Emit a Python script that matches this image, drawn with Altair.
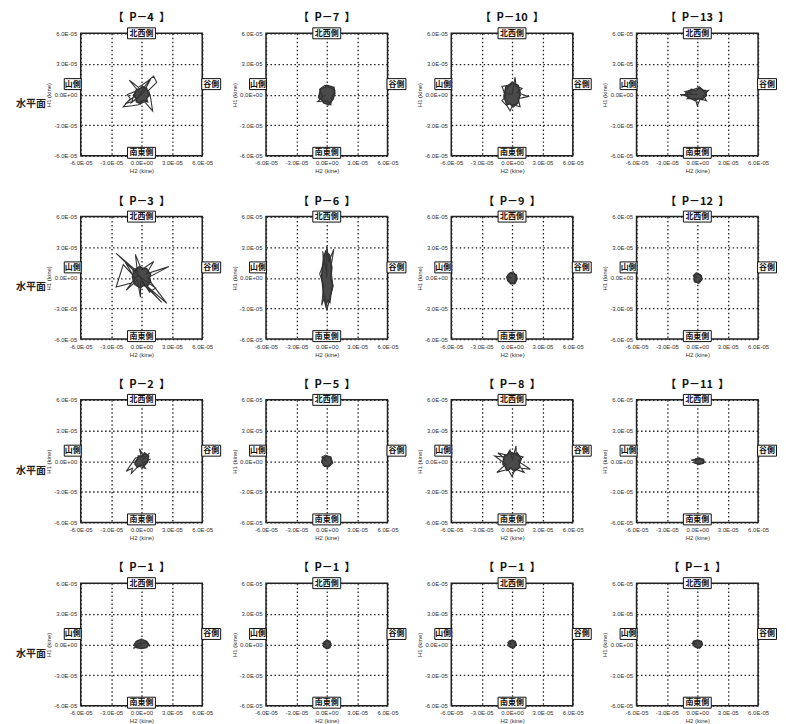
import altair as alt
import pandas as pd

# ---- data (units: 1E-06 kine) ----
TITLES = ["P－4", "P－7", "P－10", "P－13",
          "P－3", "P－6", "P－9", "P－12",
          "P－2", "P－5", "P－8", "P－11",
          "P－1", "P－1", "P－1", "P－1"]
TICKS = [-60, -30, 0, 30, 60]
SIDE_LABELS = ["北西側", "南東側", "山側", "谷側"]
ROW_LABEL = "水平面"

P4_core_x = [-5, -1, 1, 5, 6, 8, 5, 6, 1, -1, -5, -5, -8, -6, -5]
P4_core_y = [5, 6, 8, 6, 3, 0, -4, -7, -6, -9, -7, -4, -1, 2, 5]
P4_orb_x = [-2, -12, -3, 6, 12, 15, 7, 9, 11, 3, -3, -9, -18, -11, -14, -6, -10, -3, 4, 9, 2, -7, -16, -5]
P4_orb_y = [2, 14, 7, 13, 18, 12, 4, -3, -16, -7, -10, -11, -12, -4, 0, 3, -8, -2, 9, 15, 2, -6, -9, 0]

P7_core_x = [-6, -2, 0, 4, 7, 8, 6, 4, 2, -3, -5, -8, -6]
P7_core_y = [6, 7, 9, 8, 7, 1, -5, -7, -10, -8, -5, -3, 6]
P7_orb_x = [-1, -9, -4, -7, -2, 3, 8, 5, 4, 0, -10]
P7_orb_y = [0, -7, -2, 5, 9, 7, 4, -3, -10, -6, -7]

P10_core_x = [-6, -2, 0, 4, 6, 8, 7, 6, 1, -2, -5, -8, -7, -6]
P10_core_y = [8, 9, 12, 10, 9, 2, -3, -8, -12, -9, -10, -2, 3, 8]
P10_orb_x = [0, 3, 4, 10, 5, 16, 6, 8, 1, -2, -5, -10, -6, -10, -4, 0, -8, 0]
P10_orb_y = [0, 17, 8, 6, 2, -2, -4, -12, -10, -16, -11, -6, -2, 8, 9, 12, 2, 0]

P13_core_x = [-12, -8, -6, -1, 2, 6, 8, 9, 6, 5, 1, -2, -6, -9, -12]
P13_core_y = [1, 3, 5, 4, 7, 4, 4, -1, -3, -5, -4, -6, -4, -3, 1]
P13_orb_x = [0, -17, -8, -10, -2, 0, 3, 9, 6, 11, 6, 2, -4, -12, -5]
P13_orb_y = [0, 0, -2, -4, -4, -11, -4, -6, -1, 4, 3, 7, 5, 3, 1]

P3_core_x = [-8, -5, -2, 2, 5, 7, 9, 8, 9, 5, 2, -1, -4, -7, -9, -8, -8]
P3_core_y = [8, 9, 11, 9, 9, 6, 4, 0, -4, -9, -7, -10, -8, -6, 1, 4, 8]
P3_orb_x = [0, -25, -4, -6, 0, 12, 5, 27, 6, 25, 3, 20, -1, -1, -4, -15, -6, -18, -25, -10, -3, 8, 14, 0, -16, -8]
P3_orb_y = [0, 24, 6, 23, 8, 16, 4, 11, 0, -25, -6, -24, -3, -19, -2, -12, 0, 13, -9, -5, 3, -14, -10, 0, 15, 2]

P6_core_x = [-3, -1, 1, 3, 5, 4, 6, 4, 3, 1, -1, -3, -4, -5, -4, -3]
P6_core_y = [20, 26, 24, 22, 10, 0, -8, -16, -24, -22, -27, -18, -8, 2, 12, 20]
P6_orb_x = [0, 0, 2, 7, 4, 6, 3, 0, -2, -5, -3, -7, -3, -4, 0]
P6_orb_y = [0, 31, 16, 28, 10, -8, -20, -32, -18, -27, -8, 4, 14, 26, 5]

P9_core_x = [-4, -1, 1, 4, 5, 3, -1, -4, -5, -4]
P9_core_y = [3, 5, 4, 3, -1, -5, -6, -3, 0, 3]
P9_orb_x = [0, -5, -2, 2, 4, 1, -3]
P9_orb_y = [0, 1, -4, -6, 2, 6, 4]

P12_core_x = [-3, 1, 4, 4, 1, -3, -3]
P12_core_y = [3, 4, 2, -2, -5, -3, 3]
P12_orb_x = [0, -4, -1, 3, 5, 2, -3]
P12_orb_y = [0, 2, 5, 3, -1, -5, -4]

P2_core_x = [-7, -4, -3, 1, 3, 6, 7, 6, 2, -1, -4, -7]
P2_core_y = [-2, 2, 5, 5, 8, 6, 5, -1, -5, -4, -6, -2]
P2_orb_x = [0, 8, 3, -2, 0, -6, -15, -9, -10, -3, 4, 1, 9]
P2_orb_y = [0, 8, 3, 12, 4, 3, -10, -7, -12, -5, -7, -2, 2]

P5_core_x = [-4, 0, 4, 5, 2, -2, -5, -4]
P5_core_y = [3, 5, 4, -1, -5, -5, -1, 3]
P5_orb_x = [0, -5, -1, 4, 6, 1, -4]
P5_orb_y = [0, 4, 6, 3, -2, -6, -4]

P8_core_x = [-8, -5, -2, 2, 5, 8, 9, 7, 8, 2, -1, -5, -7, -9, -8]
P8_core_y = [5, 6, 9, 7, 8, 4, 2, -3, -6, -10, -7, -9, -5, -3, 5]
P8_orb_x = [0, 4, 4, 11, 6, 18, 9, 12, 3, 0, -4, -15, -6, -17, -9, -14, -5, -2, 0]
P8_orb_y = [0, 15, 6, 4, 0, -8, -7, -11, -8, -15, -8, -11, -3, 5, 4, 8, 6, 11, 3]

P11_core_x = [-2, 2, 6, 6, 2, -2, -2]
P11_core_y = [2, 3, 1, -2, -3, -2, 2]
P11_orb_x = [0, -6, -1, 6, 7, 2, -5]
P11_orb_y = [0, 1, 2, 2, -1, -3, -1]

P1a_core_x = [-5, 0, 5, 7, 5, 0, -5, -7, -5]
P1a_core_y = [3, 5, 3, 0, -3, -4, -3, 0, 3]
P1a_orb_x = [0, -8, -3, 6, 8]
P1a_orb_y = [0, -4, 1, 2, -2]

P1b_core_x = [-3, 0, 3, 4, 3, 0, -3, -3]
P1b_core_y = [2, 4, 3, 0, -3, -4, -2, 2]
P1b_orb_x = [0, -4, 0, 4, 2]
P1b_orb_y = [0, 1, 4, 1, -4]

P1c_core_x = [-3, 0, 3, 4, 2, -1, -4, -3]
P1c_core_y = [3, 4, 3, 0, -3, -3, -1, 3]
P1c_orb_x = [0, -4, 0, 4, 1]
P1c_orb_y = [0, 2, 4, 0, -4]

P1d_core_x = [-4, 0, 4, 5, 3, -1, -4, -4]
P1d_core_y = [3, 4, 3, 0, -3, -3, -1, 3]
P1d_orb_x = [0, -5, 0, 5, 2]
P1d_orb_y = [0, 1, 4, 1, -4]

PANELS = [
    (P4_core_x, P4_core_y, P4_orb_x, P4_orb_y),
    (P7_core_x, P7_core_y, P7_orb_x, P7_orb_y),
    (P10_core_x, P10_core_y, P10_orb_x, P10_orb_y),
    (P13_core_x, P13_core_y, P13_orb_x, P13_orb_y),
    (P3_core_x, P3_core_y, P3_orb_x, P3_orb_y),
    (P6_core_x, P6_core_y, P6_orb_x, P6_orb_y),
    (P9_core_x, P9_core_y, P9_orb_x, P9_orb_y),
    (P12_core_x, P12_core_y, P12_orb_x, P12_orb_y),
    (P2_core_x, P2_core_y, P2_orb_x, P2_orb_y),
    (P5_core_x, P5_core_y, P5_orb_x, P5_orb_y),
    (P8_core_x, P8_core_y, P8_orb_x, P8_orb_y),
    (P11_core_x, P11_core_y, P11_orb_x, P11_orb_y),
    (P1a_core_x, P1a_core_y, P1a_orb_x, P1a_orb_y),
    (P1b_core_x, P1b_core_y, P1b_orb_x, P1b_orb_y),
    (P1c_core_x, P1c_core_y, P1c_orb_x, P1c_orb_y),
    (P1d_core_x, P1d_core_y, P1d_orb_x, P1d_orb_y),
]

# ---- layout ----
W, H = 122, 123
JP = "Noto Sans CJK JP"
SP = "\u2002"
LABEL_EXPR = ("datum.value == 0 ? '0.0E+00' : (datum.value < 0 ? '-' : '') + "
              "format(abs(datum.value) / 10, '.1f') + 'E-05'")

xscale = alt.Scale(domain=[-60, 60], nice=False, zero=False)
yscale = alt.Scale(domain=[-60, 60], nice=False, zero=False)


def axis(title):
    return alt.Axis(values=TICKS, labelExpr=LABEL_EXPR, grid=True, ticks=False,
                    domain=False, gridDash=[1.5, 2.5], gridColor="#222", gridWidth=1.3,
                    labelFont="Liberation Sans", labelFontSize=6, labelColor="#333",
                    labelPadding=4, labelOverlap=False, labelFlush=False,
                    labelSeparation=0, labelBound=False,
                    title=title, titleFont="Liberation Sans",
                    titleFontSize=6, titleFontWeight="normal", titleColor="#333",
                    titlePadding=2)


XAX = axis("H2 (kine)")
YAX = axis("H1 (kine)")


def box(text, cx, cy, w, h):
    d = pd.DataFrame({"t": [text]})
    r = alt.Chart(d).mark_rect(fill="white", stroke="#111", strokeWidth=1).encode(
        x=alt.value(cx - w / 2), x2=alt.value(cx + w / 2),
        y=alt.value(cy - h / 2), y2=alt.value(cy + h / 2))
    t = alt.Chart(d).mark_text(font=JP, fontSize=8, fontWeight="bold", color="#111",
                               baseline="middle", align="center").encode(
        x=alt.value(cx), y=alt.value(cy + 0.5), text="t:N")
    return [r, t]


def panel(idx):
    cx_, cy_, ox, oy = PANELS[idx]
    core_df = pd.DataFrame({"x": cx_, "y": cy_, "i": list(range(len(cx_)))})
    orb_df = pd.DataFrame({"x": ox, "y": oy, "i": list(range(len(ox)))})
    core = alt.Chart(core_df).mark_line(fill="#4a4a4a", stroke="#333", strokeWidth=1.6,
                                        strokeJoin="miter").encode(
        x=alt.X("x:Q", scale=xscale, axis=XAX),
        y=alt.Y("y:Q", scale=yscale, axis=YAX),
        order="i:Q")
    orb = alt.Chart(orb_df).mark_line(stroke="#333", strokeWidth=1.1).encode(
        x=alt.X("x:Q", scale=xscale, axis=XAX),
        y=alt.Y("y:Q", scale=yscale, axis=YAX), order="i:Q")
    layers = [core, orb]
    layers += box(SIDE_LABELS[0], W / 2, 0, 28, 11)
    layers += box(SIDE_LABELS[1], W / 2, H - 3, 28, 11)
    layers += box(SIDE_LABELS[2], -8, 51, 17, 11)
    layers += box(SIDE_LABELS[3], W + 9, 51, 19, 11)
    if idx % 4 == 0:
        d = pd.DataFrame({"t": [ROW_LABEL]})
        layers.append(alt.Chart(d).mark_text(font=JP, fontSize=10, fontWeight="bold",
                                             color="#222", align="center",
                                             baseline="middle").encode(
            x=alt.value(-50), y=alt.value(71), text="t:N"))
    return alt.layer(*layers).properties(
        width=W, height=H,
        title=alt.TitleParams("【" + SP + TITLES[idx] + SP + "】", font=JP, fontSize=11,
                              fontWeight="bold", color="#111", offset=4))


chart = alt.concat(*[panel(i) for i in range(16)], columns=4,
                   spacing={"row": 61, "column": 64}, bounds="flush").properties(
    padding={"left": 7, "top": 2, "right": 0, "bottom": 0},
    background="white"
).configure_view(stroke="#222", strokeWidth=1.5)

chart.save("out.html", embed_options={"renderer": "svg", "actions": False})
